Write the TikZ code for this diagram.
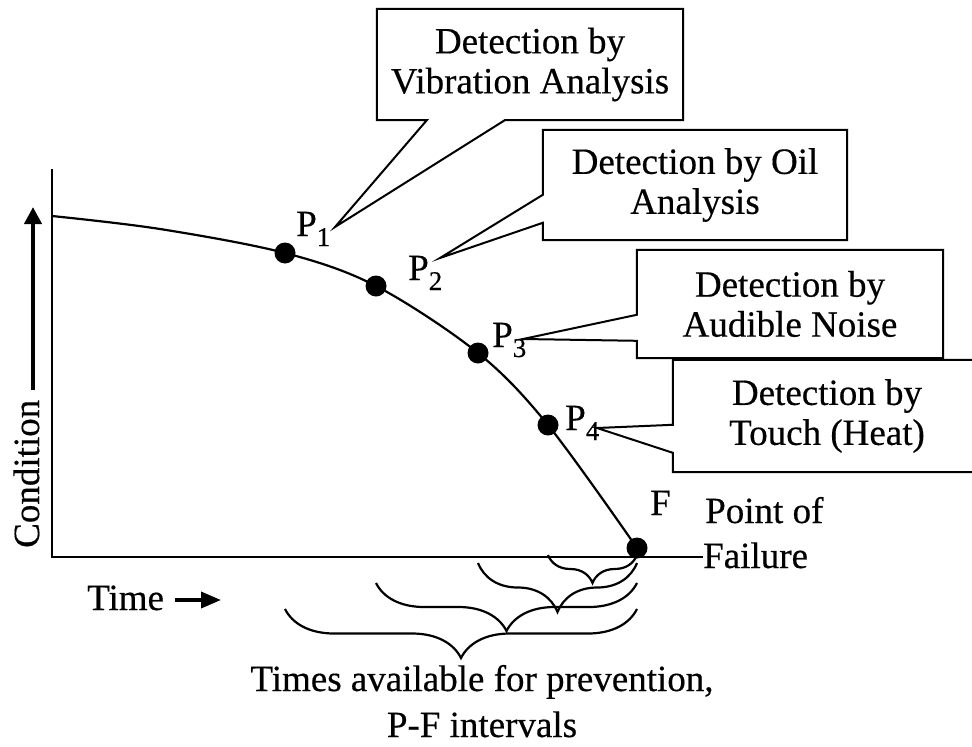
\documentclass[tikz,border=0pt]{standalone}
\usepackage{fontspec}
\setmainfont[FakeBold=0.4]{Liberation Serif}
\usetikzlibrary{arrows.meta,calc,decorations.pathreplacing}

% lowered subscript for the P labels
\newcommand\psub[1]{\raisebox{-10pt}{\fontsize{27}{27}\selectfont #1}}

\tikzset{
  lbl/.style={font=\fontsize{37}{40}\selectfont, inner sep=0pt},
  callbox/.style={lbl, fill=white, align=center},
  outline/.style={line width=2pt, line join=miter},
  axisline/.style={line width=2.5pt},
  curveline/.style={line width=2.2pt},
  dot/.style={circle, fill=black, minimum size=21pt, inner sep=0pt},
  fatarrow/.style={line width=4pt, -{Triangle[width=17pt,length=17pt]}},
  pfbrace/.style={line width=2.2pt, decorate, decoration={brace, amplitude=#1}}
}

\begin{document}
\begin{tikzpicture}[x=1pt,y=-1pt]
\useasboundingbox (0,0) rectangle (972,747);

% axes
\coordinate (origin) at (52,557);
\coordinate (ytop) at (52,169);
\coordinate (xend) at (703,557);
\draw[axisline] (ytop) -- (origin) -- (xend);

% condition curve
\coordinate (c0) at (52,216);
\coordinate (P1) at (285,253);
\coordinate (P2) at (376,286);
\coordinate (P3) at (478,353);
\coordinate (P4) at (548,425);
\coordinate (F)  at (637,548);
\draw[curveline] plot[smooth, tension=0.55] coordinates {(c0) (160,229) (P1) (P2) (P3) (P4) (F)};

\node[dot] (d1) at (P1) {};
\node[dot] (d2) at (P2) {};
\node[dot] (d3) at (P3) {};
\node[dot] (d4) at (P4) {};
\node[dot] (dF) at (F) {};

% point labels
\node[lbl, anchor=base west] (l1) at (296,236) {P\psub{1}};
\node[lbl, anchor=base west] (l2) at (408,280) {P\psub{2}};
\node[lbl, anchor=base west] (l3) at (492,347) {P\psub{3}};
\node[lbl, anchor=base west] (l4) at (565,430) {P\psub{4}};
\node[lbl, anchor=base west] (lF) at (650,515) {F};
\node[lbl, anchor=base west] (pof1) at (705,523) {Point of};
\node[lbl, anchor=base west] (pof2) at (703,568) {Failure};

% axis captions
\node[lbl, rotate=90, anchor=base west] (cond) at (39,548) {Condition};
\coordinate (cA) at (33,390);
\coordinate (cB) at (33,207);
\draw[fatarrow] (cA) -- (cB);
\node[lbl, anchor=base west] (time) at (87,610) {Time};
\coordinate (tA) at (175,600);
\coordinate (tB) at (221,600);
\draw[fatarrow, line width=3.5pt, -{Triangle[width=16pt,length=20pt]}] (tA) -- (tB);

% callout tips
\coordinate (tipV) at (335,227);
\coordinate (tipO) at (440,258);
\coordinate (tipA) at (523,339);
\coordinate (tipT) at (597,428);

% callouts
\node[callbox, minimum width=306pt, minimum height=111pt] (vib) at (530,64.5)
  {Detection by\\Vibration Analysis};
\draw[outline] (vib.north west) -- (vib.north east) -- (vib.south east)
  -- ($(vib.south west)+(128,0)$) -- (tipV) -- ($(vib.south west)+(50,0)$)
  -- (vib.south west) -- cycle;

\node[callbox, minimum width=304pt, minimum height=110pt] (oil) at (695,185)
  {Detection by Oil\\Analysis};
\draw[outline] (oil.north west) -- (oil.north east) -- (oil.south east)
  -- (oil.south west) -- ($(oil.north west)+(0,93)$) -- (tipO)
  -- ($(oil.north west)+(0,65)$) -- cycle;

\node[callbox, minimum width=306pt, minimum height=108pt] (aud) at (790,304)
  {Detection by\\Audible Noise};
\draw[outline] (aud.north west) -- (aud.north east) -- (aud.south east)
  -- (aud.south west) -- ($(aud.north west)+(0,91)$) -- (tipA)
  -- ($(aud.north west)+(0,65)$) -- cycle;

\node[callbox, minimum width=308pt, minimum height=112pt] (tou) at (827,416)
  {Detection by\\Touch (Heat)};
\draw[outline] (tou.north west) -- (tou.north east) -- (tou.south east)
  -- (tou.south west) -- ($(tou.north west)+(0,93)$) -- (tipT)
  -- ($(tou.north west)+(0,65)$) -- cycle;

% P-F interval braces, each from a detection point to failure
\draw[pfbrace=28pt] (F |- 0,555) -- (P4 |- 0,555);
\draw[pfbrace=49pt] (F |- 0,563) -- (P3 |- 0,563);
\draw[pfbrace=48pt] (F |- 0,583) -- (P2 |- 0,583);
\draw[pfbrace=49pt] (F |- 0,609) -- (P1 |- 0,609);

\node[lbl, anchor=base] (cap1) at (482,691) {Times available for prevention,};
\node[lbl, anchor=base] (cap2) at (482,737) {P-F intervals};
\end{tikzpicture}
\end{document}
